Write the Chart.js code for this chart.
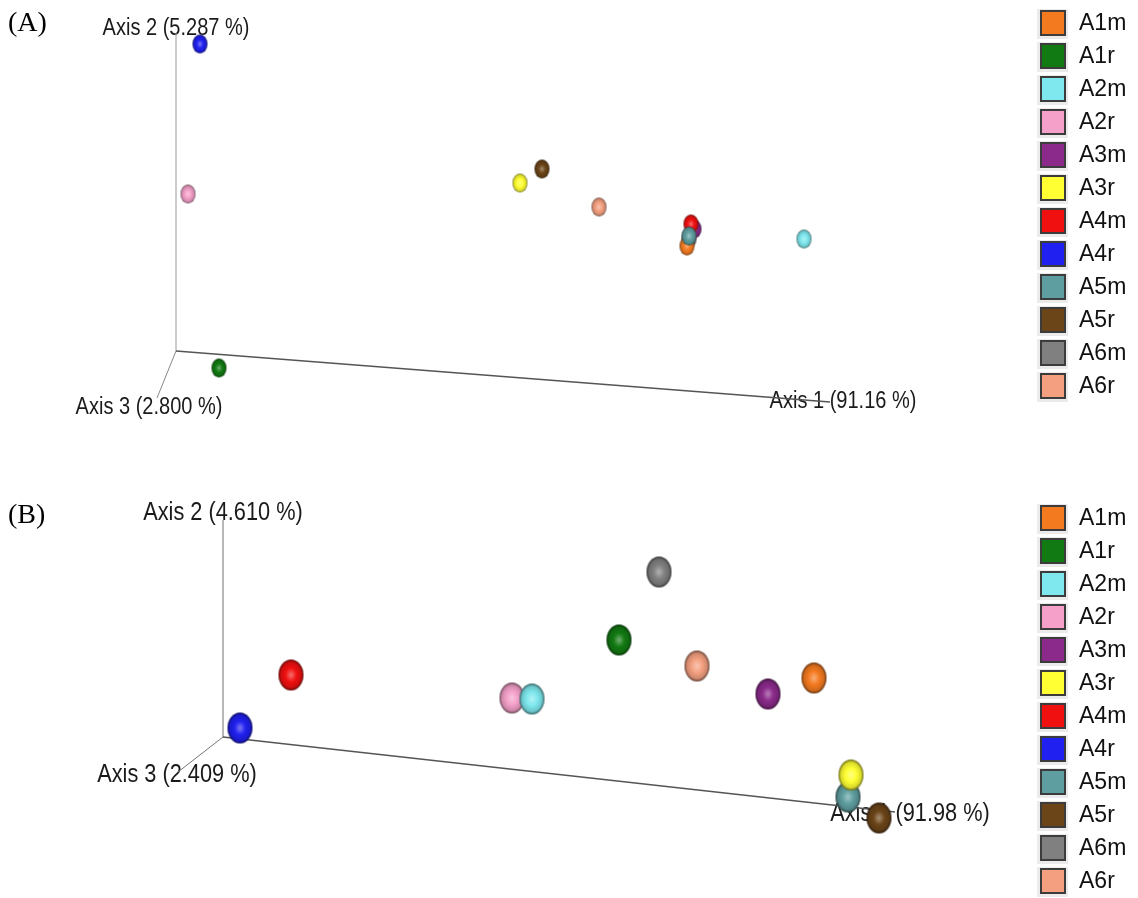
<!DOCTYPE html>
<html>
<head>
<meta charset="utf-8">
<script src="https://cdn.jsdelivr.net/npm/chart.js@4.4.1/dist/chart.umd.min.js"></script>
<style>
  html, body { margin: 0; padding: 0; background: #fff; }
  #wrap { position: relative; width: 1138px; height: 898px; }
  .panel { position: absolute; left: 0; width: 1138px; }
  #panelA { top: 0; height: 450px; }
  #panelB { top: 450px; height: 448px; }
</style>
</head>
<body>
<div id="wrap">
  <div class="panel" id="panelA"><canvas id="chartA" width="1138" height="450"></canvas></div>
  <div class="panel" id="panelB"><canvas id="chartB" width="1138" height="448"></canvas></div>
</div>
<script>
const samples = ["A1m", "A1r", "A2m", "A2r", "A3m", "A3r", "A4m", "A4r", "A5m", "A5r", "A6m", "A6r"];
const sampleColors = ["#f47a20", "#127a12", "#7ee8ee", "#f4a0c8", "#8b2a8b", "#ffff33",
                      "#f01010", "#2020f0", "#5f9ea0", "#6b4418", "#808080", "#f4a080"];

// projected PCoA positions (origin = where the 3 axes meet)
const panelA_x = [511, 43, 628, 12, 518, 344, 515, 24, 513, 366, 513, 423];
const panelA_y = [105, -17, 112, 157, 122, 168, 127, 307, 115, 182, 112, 144];
// front-to-back order (1 = in front)
const panelA_depth = [4, 6, 7, 8, 3, 9, 2, 10, 1, 11, 5, 12];

const panelB_x = [591, 396, 309, 289, 545, 628, 68, 17, 625, 656, 436, 474];
const panelB_y = [59, 97, 38, 39, 43, -38, 62, 9, -60, -81, 165, 71];
const panelB_depth = [4, 6, 1, 2, 7, 3, 8, 9, 5, 10, 11, 12];

const axisNames = ["Axis 1", "Axis 2", "Axis 3"];
const panelA_explained = ["91.16", "5.287", "2.800"];
const panelB_explained = ["91.98", "4.610", "2.409"];
const panelA_axisEnd_x = [654, 0, -19];
const panelA_axisEnd_y = [-51, 318, -47];
const panelB_axisEnd_x = [672, 0, -45];
const panelB_axisEnd_y = [-75, 217, -35];

function mix(hex, other, t) {
  const a = parseInt(hex.slice(1), 16), b = parseInt(other.slice(1), 16);
  const ch = (v, s) => (v >> s) & 255;
  const m = s => Math.round(ch(a, s) * (1 - t) + ch(b, s) * t);
  return "rgb(" + m(16) + "," + m(8) + "," + m(0) + ")";
}

// shaded sphere sprite used as point style
function makeBall(color, w, h) {
  const c = document.createElement("canvas");
  c.width = w + 2;
  c.height = h + 2;
  const g = c.getContext("2d");
  const r = w / 2;
  g.translate(c.width / 2, c.height / 2);
  g.scale(1, h / w);
  const grad = g.createRadialGradient(0, 0, 0, 0, 0, r);
  grad.addColorStop(0, mix(color, "#ffffff", 0.4));
  grad.addColorStop(0.45, color);
  grad.addColorStop(0.82, mix(color, "#000000", 0.15));
  grad.addColorStop(1, mix(color, "#000000", 0.6));
  g.beginPath();
  g.arc(0, 0, r, 0, Math.PI * 2);
  g.fillStyle = grad;
  g.fill();
  return c;
}

function buildPanel(canvasId, cfg) {
  const datasets = samples.map((name, i) => ({
    label: name,
    data: [{ x: cfg.xs[i], y: cfg.ys[i] }],
    pointStyle: makeBall(sampleColors[i], cfg.ballW, cfg.ballH),
    pointRadius: cfg.ballW / 2,
    order: cfg.depth[i],
    backgroundColor: sampleColors[i]
  }));

  axisNames.forEach((name, i) => {
    datasets.push({
      label: name,
      data: [{ x: 0, y: 0 }, { x: cfg.endX[i], y: cfg.endY[i] }],
      showLine: true,
      pointRadius: 0,
      borderColor: cfg.axisColors[i],
      borderWidth: cfg.axisWidths[i],
      order: 100
    });
  });

  const textPlugin = {
    id: "axisText",
    beforeDatasetsDraw(chart) {
      const ctx = chart.ctx;
      const sx = chart.scales.x, sy = chart.scales.y;
      ctx.save();
      ctx.fillStyle = "#1a1a1a";
      ctx.textAlign = "center";
      ctx.textBaseline = "middle";
      ctx.font = cfg.axisFont + "px 'Liberation Sans', Arial, sans-serif";
      axisNames.forEach((name, i) => {
        const px = sx.getPixelForValue(cfg.endX[i]) + cfg.labelOffsets[i][0];
        const py = sy.getPixelForValue(cfg.endY[i]) + cfg.labelOffsets[i][1];
        // the original labels are a bit condensed
        ctx.save();
        ctx.translate(px, py);
        ctx.scale(0.87, 1);
        ctx.fillText(name + " (" + cfg.explained[i] + " %)", 0, 0);
        ctx.restore();
      });
      ctx.textAlign = "left";
      ctx.font = "28px 'Liberation Serif', 'Times New Roman', serif";
      ctx.fillStyle = "#000";
      ctx.fillText(cfg.tag, 8, cfg.tagY);
      ctx.restore();
    },
    afterDraw(chart) {
      const ctx = chart.ctx;
      ctx.save();
      ctx.font = "23px 'Liberation Sans', Arial, sans-serif";
      ctx.textBaseline = "middle";
      samples.forEach((name, i) => {
        const cy = cfg.legendTop + i * 33;
        ctx.fillStyle = "#ebebeb";
        ctx.fillRect(1037, cy - 14, 31, 30);
        ctx.fillStyle = sampleColors[i];
        ctx.fillRect(1041, cy - 12, 24, 24);
        ctx.strokeStyle = "#3c3c3c";
        ctx.lineWidth = 2;
        ctx.strokeRect(1041, cy - 12, 24, 24);
        ctx.fillStyle = "#111";
        ctx.fillText(name, 1079, cy + 1);
      });
      ctx.restore();
    }
  };

  return new Chart(document.getElementById(canvasId), {
    type: "scatter",
    data: { datasets },
    options: {
      responsive: false,
      animation: false,
      layout: { padding: 0, autoPadding: false },
      scales: {
        x: { type: "linear", display: false, min: cfg.xMin, max: cfg.xMax },
        y: { type: "linear", display: false, min: cfg.yMin, max: cfg.yMax }
      },
      plugins: {
        legend: { display: false },
        tooltip: { enabled: false }
      }
    },
    plugins: [textPlugin]
  });
}

buildPanel("chartA", {
  xs: panelA_x, ys: panelA_y, depth: panelA_depth,
  endX: panelA_axisEnd_x, endY: panelA_axisEnd_y, explained: panelA_explained,
  xMin: -176, xMax: 962, yMin: -99, yMax: 351,
  ballW: 15, ballH: 19,
  axisColors: ["#555", "#999", "#888"], axisWidths: [1.5, 1, 1],
  labelOffsets: [[13, 0], [0, -4], [-8, 10]],
  axisFont: 23, tag: "(A)", tagY: 24, legendTop: 23
});

buildPanel("chartB", {
  xs: panelB_x, ys: panelB_y, depth: panelB_depth,
  endX: panelB_axisEnd_x, endY: panelB_axisEnd_y, explained: panelB_explained,
  xMin: -223, xMax: 915, yMin: -161, yMax: 287,
  ballW: 25, ballH: 31,
  axisColors: ["#555", "#888", "#777"], axisWidths: [1.5, 1.2, 1],
  labelOffsets: [[15, 2], [0, -7], [-1, 3]],
  axisFont: 25, tag: "(B)", tagY: 66, legendTop: 68
});
</script>
</body>
</html>
